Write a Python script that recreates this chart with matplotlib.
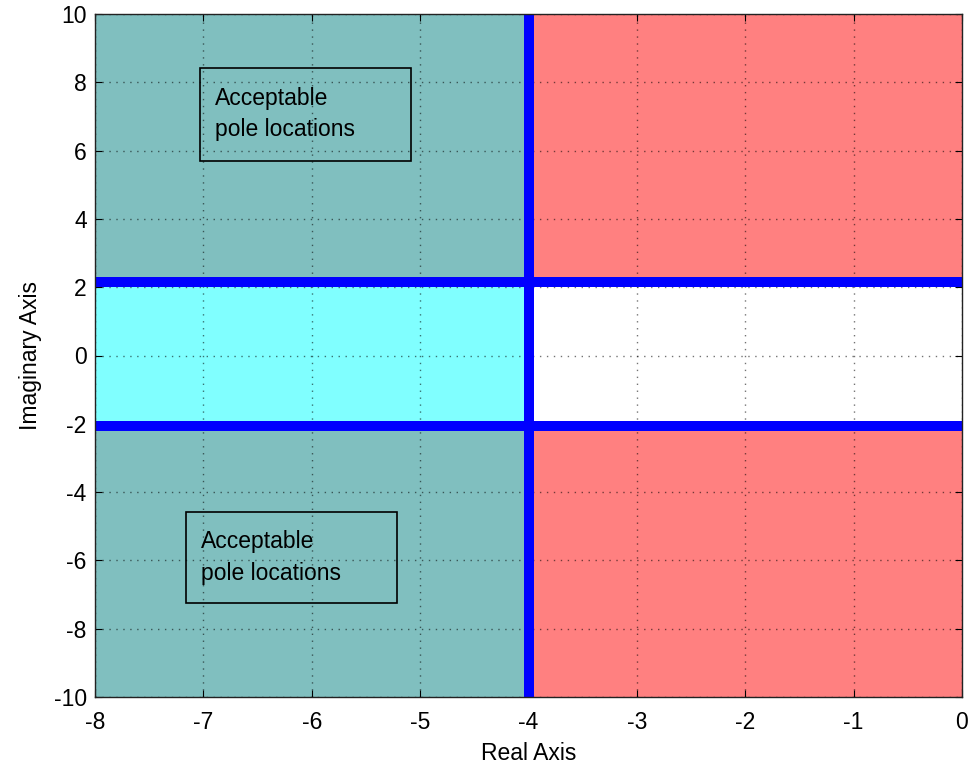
import numpy as np
import matplotlib
matplotlib.use("Agg")
import matplotlib.pyplot as plt
from matplotlib.patches import Rectangle

# axis ranges and design boundaries
x_range = [-8, 0]
y_range = [-10, 10]
x_ticks = [-8, -7, -6, -5, -4, -3, -2, -1, 0]
y_ticks = [-10, -8, -6, -4, -2, 0, 2, 4, 6, 8, 10]
sigma_limit = -4.0          # real part bound
wd_upper = 2.15             # imaginary part bounds
wd_lower = -2.05

# annotation boxes: (x0, y0, x1, y1) in data units, label
box_label = "Acceptable\npole locations"
boxes = [(-7.03, 5.70, -5.08, 8.42), (-7.16, -7.25, -5.21, -4.58)]

TEAL = "#80BFBF"
CYAN = "#80FFFF"
RED = "#FF8080"
BLUE = "#0000FF"

plt.rcParams['font.family'] = ['Liberation Sans', 'DejaVu Sans']
plt.rcParams['axes.unicode_minus'] = False

fig = plt.figure(figsize=(9.69, 7.71), dpi=100)
ax = fig.add_axes([95 / 969, 74 / 771, 867 / 969, 683 / 771])

# shaded regions
ax.fill_between([x_range[0], sigma_limit], wd_upper, y_range[1], color=TEAL, lw=0)
ax.fill_between([x_range[0], sigma_limit], y_range[0], wd_lower, color=TEAL, lw=0)
ax.fill_between([x_range[0], sigma_limit], wd_lower, wd_upper, color=CYAN, lw=0)
ax.fill_between([sigma_limit, x_range[1]], wd_upper, y_range[1], color=RED, lw=0)
ax.fill_between([sigma_limit, x_range[1]], y_range[0], wd_lower, color=RED, lw=0)

# boundary lines
ax.axvline(sigma_limit, color=BLUE, lw=7.2, zorder=3)
ax.axhline(wd_upper, color=BLUE, lw=7.2, zorder=3)
ax.axhline(wd_lower, color=BLUE, lw=7.2, zorder=3)

ax.set_xlim(x_range)
ax.set_ylim(y_range)
ax.set_xticks(x_ticks)
ax.set_yticks(y_ticks)
ax.grid(True, color='k', alpha=0.55, linestyle=(0, (1, 4)), lw=1.0)
ax.tick_params(direction='in', top=True, right=True, labelsize=16.5,
               length=5, width=0.8)
ax.tick_params(axis='x', pad=10)
ax.tick_params(axis='y', pad=6)
for s in ax.spines.values():
    s.set_linewidth(1.0)
    s.set_color('#222222')
    s.set_zorder(5)

for x0, y0, x1, y1 in boxes:
    ax.add_patch(Rectangle((x0, y0), x1 - x0, y1 - y0, fill=False,
                           edgecolor='k', lw=1.2, zorder=4))
    ax.text(x0 + 0.14, (y0 + y1) / 2, box_label, fontsize=16.5,
            va='center', ha='left', linespacing=1.45, zorder=4)

ax.set_xlabel("Real Axis", fontsize=16.5, labelpad=6)
ax.set_ylabel("Imaginary Axis", fontsize=16.5, labelpad=8)

fig.savefig("out.png", dpi=100)
